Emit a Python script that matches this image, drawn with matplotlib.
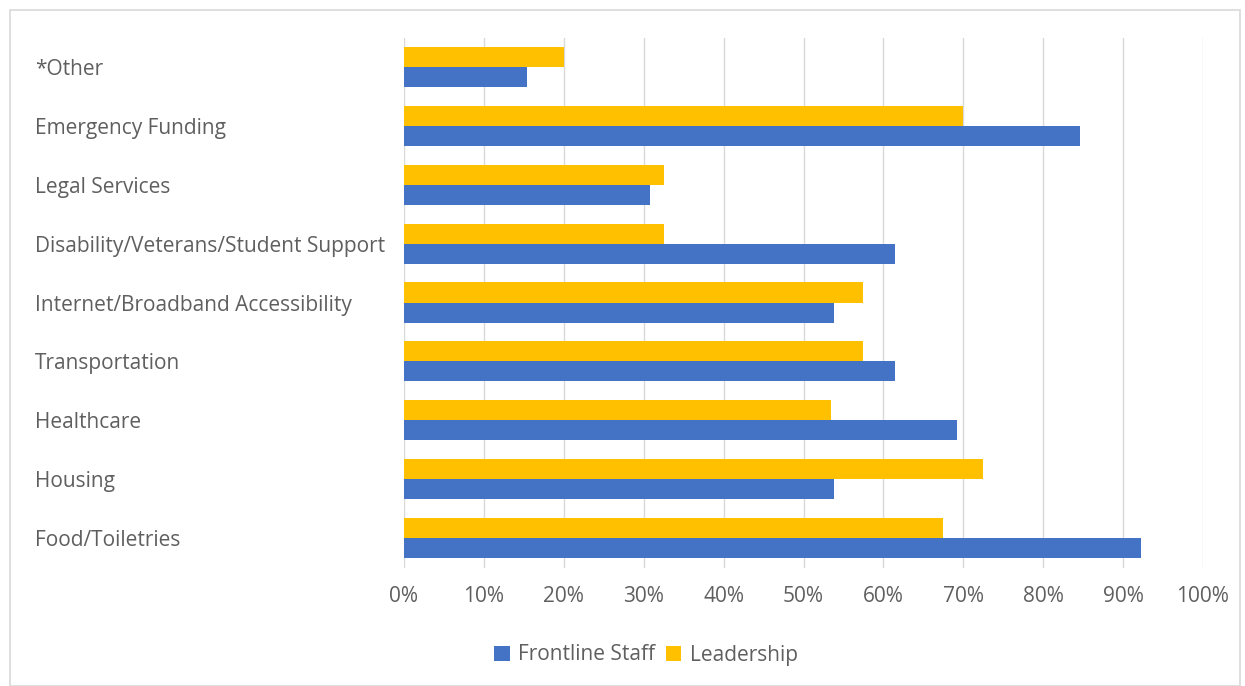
import matplotlib
matplotlib.use("Agg")
import matplotlib.pyplot as plt
from matplotlib.patches import Rectangle
from matplotlib.ticker import PercentFormatter
import numpy as np

categories = ["*Other", "Emergency Funding", "Legal Services",
              "Disability/Veterans/Student Support",
              "Internet/Broadband Accessibility", "Transportation",
              "Healthcare", "Housing", "Food/Toiletries"]
frontline = [15.4, 84.6, 30.8, 61.5, 53.8, 61.5, 69.2, 53.8, 92.3]
leadership = [20.0, 70.0, 32.5, 32.5, 57.5, 57.5, 53.5, 72.5, 67.5]

BLUE = "#4472C4"
GOLD = "#FFC000"
TEXT = "#5f5f5f"
GRID = "#D9D9D9"

plt.rcParams['font.family'] = ['Open Sans', 'DejaVu Sans']

W, H = 1245, 686
fig = plt.figure(figsize=(W / 100, H / 100), dpi=100)

# outer chart frame
fig.patches.append(Rectangle((10 / W, 0), 1230 / W, (H - 10) / H,
                             transform=fig.transFigure, fill=False,
                             edgecolor=GRID, linewidth=1.2))

ax = fig.add_axes([404 / W, 1 - 567.5 / H, (1203 - 404) / W, (567.5 - 37.5) / H])

n = len(categories)
y = np.arange(n)[::-1]
h = 0.34
ax.barh(y - h / 2, frontline, height=h, color=BLUE, label="Frontline Staff")
ax.barh(y + h / 2, leadership, height=h, color=GOLD, label="Leadership")

ax.set_xlim(0, 100)
ax.set_ylim(-0.5, n - 0.5)
ax.set_xticks(np.arange(0, 101, 10))
ax.xaxis.set_major_formatter(PercentFormatter(decimals=0))
ax.grid(axis='x', color=GRID, linewidth=1)
ax.set_axisbelow(True)
for s in ax.spines.values():
    s.set_visible(False)

ax.set_yticks(y)
ax.set_yticklabels(categories, ha='left')
ax.tick_params(axis='y', length=0, pad=(404 - 35) * 0.72, labelsize=15, labelcolor=TEXT)
ax.tick_params(axis='x', length=0, pad=13, labelsize=15, labelcolor=TEXT)

ax.legend(loc='center', bbox_to_anchor=(646 / W, 1 - 655 / H),
          bbox_transform=fig.transFigure, ncol=2, frameon=False,
          fontsize=15, labelcolor=TEXT, handlelength=0.75, handleheight=0.75,
          handletextpad=0.4, columnspacing=0.5)

fig.savefig("out.png", dpi=100)
